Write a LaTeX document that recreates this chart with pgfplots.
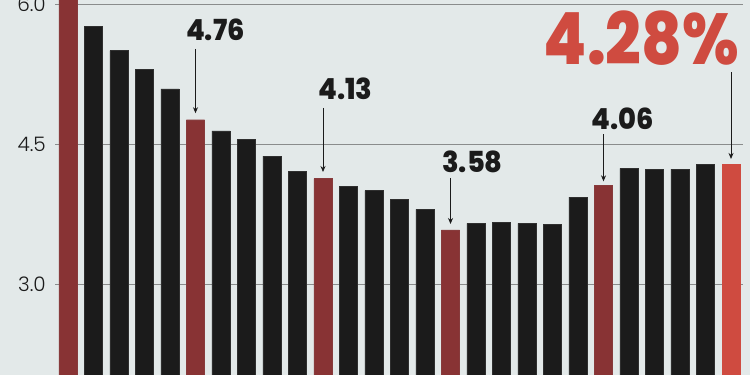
\documentclass[border=0pt]{standalone}
\usepackage{pgfplots}
\pgfplotsset{compat=1.18}
\usetikzlibrary{arrows.meta}
\usepackage{graphicx}
\usepackage{fontspec}
\setmainfont{Poppins}
\newfontfamily\lightfont{Poppins Light}
\newfontfamily\heavyfont{Poppins ExtraBold}
\definecolor{bg}{HTML}{E3E9E9}
\definecolor{barblack}{HTML}{1B1B1B}
\definecolor{darkred}{HTML}{883334}
\definecolor{brightred}{HTML}{CF4B40}
\definecolor{gridgray}{HTML}{8A8C8C}
\definecolor{txt}{HTML}{1B1B1B}
\begin{document}
\begin{tikzpicture}[x=1pt,y=1pt]
\fill[bg] (0,0) rectangle (750,375);
\begin{axis}[
  at={(55pt,0pt)}, anchor=south west,
  scale only axis, width=688pt, height=375pt,
  xmin=-0.51, xmax=26.47, ymin=2.025, ymax=6.043,
  axis line style={draw=none},
  major tick style={draw=none},
  xtick=\empty,
  ytick={3,4.5,6},
  ymajorgrids,
  grid style={gridgray, line width=1pt},
  yticklabel style={anchor=east, inner sep=0pt, xshift=-9pt, font=\lightfont\fontsize{20}{20}\selectfont, text=txt,
    /pgf/number format/.cd, fixed, fixed zerofill, precision=1, assume math mode=true},
  ybar, bar width=18.2pt,
  clip=true,
]
\addplot[fill=barblack, draw=barblack!80!gray, line width=0.4pt, bar shift=0pt] coordinates {
 (1,5.76) (2,5.50) (3,5.30) (4,5.09) (6,4.64) (7,4.55) (8,4.37) (9,4.21)
 (11,4.05) (12,4.00) (13,3.91) (14,3.80) (16,3.65) (17,3.66) (18,3.65) (19,3.64) (20,3.93)
 (22,4.24) (23,4.23) (24,4.23) (25,4.28)};
\addplot[fill=darkred, draw=darkred!90!gray, line width=0.4pt, bar shift=0pt] coordinates {
 (0,6.50) (5,4.76) (10,4.13) (15,3.58) (21,4.06)};
\addplot[fill=brightred, draw=brightred, line width=0.4pt, bar shift=0pt] coordinates {
 (26,4.28)};
% annotations
\begin{scope}[every node/.style={font=\heavyfont\fontsize{29}{29}\selectfont, text=txt, inner sep=0pt}]
\node at (axis cs:5.78,5.72) {\scalebox{0.94}[1]{4.76}};
\node at (axis cs:10.88,5.09) {\scalebox{0.94}[1]{4.13}};
\node at (axis cs:15.86,4.307) {\scalebox{0.94}[1]{3.58}};
\node at (axis cs:21.75,4.768) {\scalebox{0.94}[1]{4.06}};
\end{scope}
\node[font=\heavyfont\fontsize{72}{72}\selectfont, text=brightred, inner sep=0pt] at (axis cs:22.49,5.636) {\scalebox{0.87}[1]{4.28\%}};
\begin{scope}[-{Stealth[length=6pt,width=5pt]}, line width=0.8pt, draw=txt]
\draw (axis cs:5,5.52) -- (axis cs:5,4.83);
\draw (axis cs:10,4.886) -- (axis cs:10,4.20);
\draw (axis cs:15,4.136) -- (axis cs:15,3.643);
\draw (axis cs:21,4.607) -- (axis cs:21,4.10);
\draw (axis cs:26,5.27) -- (axis cs:26,4.34);
\end{scope}
\end{axis}
\pgfresetboundingbox
\useasboundingbox (0,0) rectangle (750,375);
\end{tikzpicture}
\end{document}
